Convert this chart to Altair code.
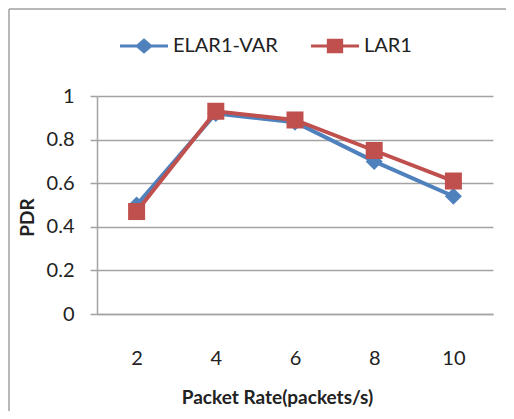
import altair as alt
import pandas as pd

rates = ["2", "4", "6", "8", "10"]
elar1_var = [0.50, 0.92, 0.88, 0.70, 0.54]
lar1 = [0.47, 0.93, 0.89, 0.75, 0.61]
series_names = ["ELAR1-VAR", "LAR1"]
series_colors = ["#4F81BD", "#C0504D"]
y_ticks = [0, 0.2, 0.4, 0.6, 0.8, 1.0]

rows = []
for r, v in zip(rates, elar1_var):
    rows.append({"rate": r, "pdr": v, "series": series_names[0]})
for r, v in zip(rates, lar1):
    rows.append({"rate": r, "pdr": v, "series": series_names[1]})
df = pd.DataFrame(rows)

FONT = "Lato"
GRID = "#a3a3a3"

x_enc = alt.X(
    "rate:O",
    sort=rates,
    scale=alt.Scale(type="point", padding=0.5),
    axis=alt.Axis(
        title="Packet Rate(packets/s)",
        labelAngle=0,
        ticks=False,
        labelPadding=34,
        labelFontSize=20,
        labelFont=FONT,
        labelColor="#222222",
        domainColor=GRID,
        domainWidth=1.5,
        grid=False,
        titleFont=FONT,
        titleFontSize=19,
        titleFontWeight="bold",
        titleColor="#222222",
        titleX=180,
        titleY=83,
        titleBaseline="middle",
        titleAlign="center",
    ),
)
y_enc = alt.Y(
    "pdr:Q",
    scale=alt.Scale(domain=[0, 1], nice=False, zero=True),
    axis=alt.Axis(
        title="PDR",
        values=y_ticks,
        labelExpr="format(datum.value, '~g')",
        tickSize=7,
        tickColor=GRID,
        tickWidth=1.5,
        domainColor=GRID,
        domainWidth=1.5,
        gridColor=GRID,
        gridWidth=1.5,
        labelPadding=16,
        labelFontSize=20,
        labelFont=FONT,
        labelColor="#222222",
        titleFont=FONT,
        titleFontSize=19,
        titleFontWeight="bold",
        titleColor="#222222",
        titleX=-70,
        titleY=121,
        titleAngle=270,
        titleAlign="center",
        titleBaseline="middle",
    ),
)

base = alt.Chart(df)
layers = []
for name, color, shape in zip(series_names, series_colors, ["diamond", "square"]):
    sub = base.transform_filter(alt.datum.series == name)
    layers.append(sub.mark_line(color=color, strokeWidth=4).encode(x=x_enc, y=y_enc))
    layers.append(
        sub.mark_point(shape=shape, filled=True, color=color, size=289, opacity=1).encode(
            x=x_enc, y=y_enc
        )
    )

elar_path = (
    "M-1,-0.0625L-0.3,-0.0625L0,-0.32L0.3,-0.0625L1,-0.0625L1,0.0625L0.3,0.0625"
    "L0,0.32L-0.3,0.0625L-1,0.0625Z"
)
lar_path = (
    "M-1,-0.0625L-0.34,-0.0625L-0.34,-0.3L0.34,-0.3L0.34,-0.0625L1,-0.0625L1,0.0625"
    "L0.34,0.0625L0.34,0.3L-0.34,0.3L-0.34,0.0625L-1,0.0625Z"
)

legend_layer = base.mark_point(filled=True, size=2304, clip=True, opacity=1).encode(
    x=alt.value(0),
    y=alt.value(-1000),
    color=alt.Color(
        "series:N",
        scale=alt.Scale(domain=series_names, range=series_colors),
        legend=alt.Legend(
            orient="none",
            legendX=23,
            legendY=-74,
            direction="horizontal",
            title=None,
            labelFont=FONT,
            labelFontSize=20,
            labelColor="#222222",
            labelOffset=5,
            columnPadding=33,
            symbolSize=2304,
            symbolStrokeWidth=0,
        ),
    ),
    shape=alt.Shape(
        "series:N",
        scale=alt.Scale(domain=series_names, range=[elar_path, lar_path]),
    ),
)

frame_data = alt.Chart(pd.DataFrame({"a": [0]}))
frame_left = frame_data.mark_rule(stroke="#a0a0a0", strokeWidth=1.5, clip=False).encode(
    x=alt.value(-88), y=alt.value(-87), y2=alt.value(315)
)
frame_top = frame_data.mark_rule(stroke="#a0a0a0", strokeWidth=1.5, clip=False).encode(
    x=alt.value(-88), x2=alt.value(409), y=alt.value(-87)
)

chart = (
    alt.layer(frame_left, frame_top, *layers, legend_layer)
    .properties(
        width=396,
        height=218,
        autosize=alt.AutoSizeParams(type="none"),
        padding={"left": 89, "top": 88, "right": 13, "bottom": 97},
    )
    .configure_view(strokeWidth=0)
)

chart.save("out.html", embed_options={"renderer": "svg", "actions": False})
